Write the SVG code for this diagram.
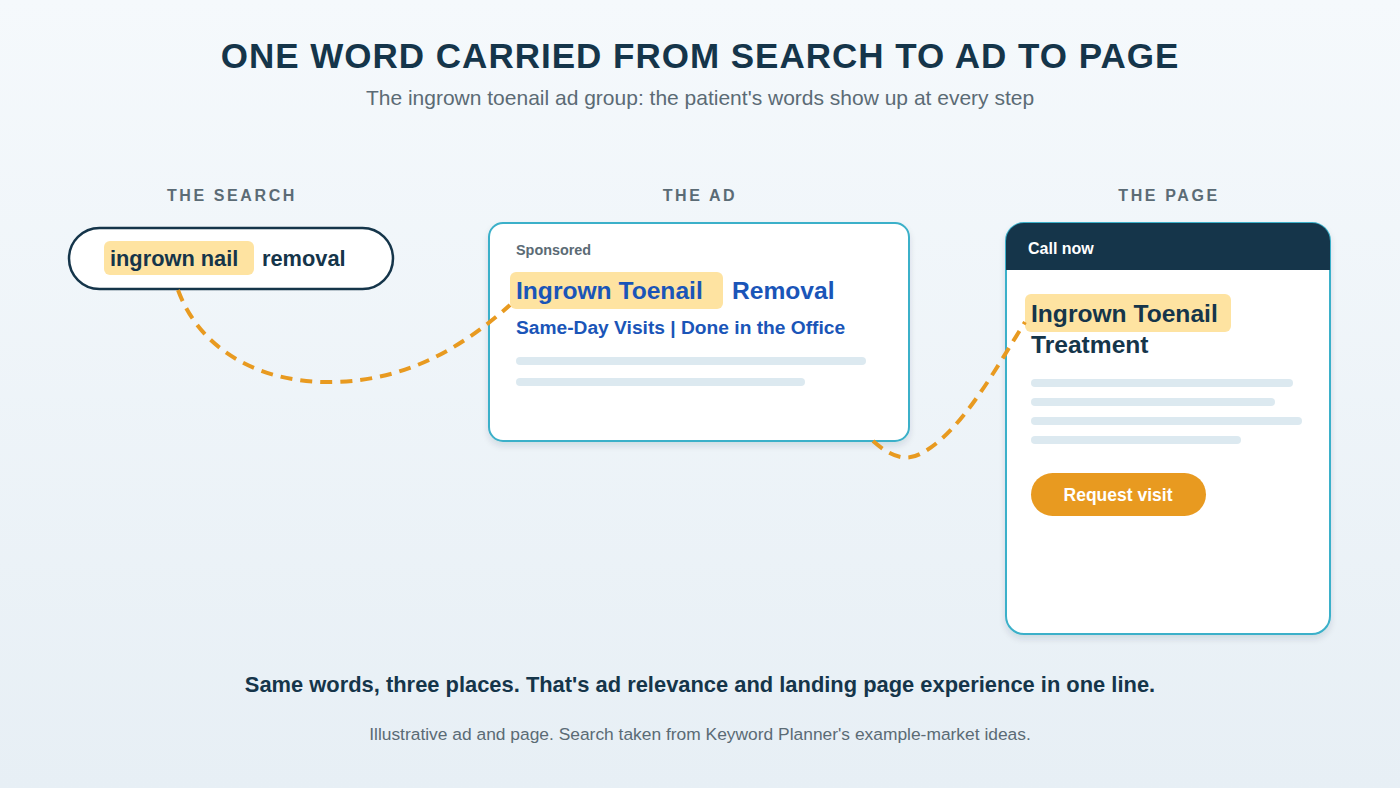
<svg xmlns="http://www.w3.org/2000/svg" width="1400" height="788" viewBox="0 0 1400 788">
<defs>
<linearGradient id="bg" x1="0" y1="0" x2="0" y2="1">
<stop offset="0" stop-color="#f5f9fc"/>
<stop offset="1" stop-color="#e7eff5"/>
</linearGradient>
<filter id="sh" x="-10%" y="-10%" width="120%" height="130%">
<feDropShadow dx="0" dy="4" stdDeviation="3" flood-color="#15354a" flood-opacity="0.12"/>
</filter>
<style>
text{font-family:"Liberation Sans",Arial,Helvetica,sans-serif}
.title{font-size:35px;font-weight:700;fill:#15354a;letter-spacing:1px}
.sub{font-size:21px;fill:#5b6b75}
.sec{font-size:16px;font-weight:700;fill:#5b6b75;letter-spacing:2.6px}
.hl{fill:#fee3a1}
.bar{fill:#dce9f0}
.card{fill:#fff;stroke:#3bb0c9;stroke-width:2}
.conn{fill:none;stroke:#e89a20;stroke-width:4;stroke-dasharray:12 8}
.navy{fill:#15354a}
.blue{fill:#1a55b8}
</style>
</defs>
<rect width="1400" height="788" fill="url(#bg)"/>

<text class="title" x="700" y="68" text-anchor="middle">ONE WORD CARRIED FROM SEARCH TO AD TO PAGE</text>
<text class="sub" x="700" y="105" text-anchor="middle">The ingrown toenail ad group: the patient's words show up at every step</text>

<text class="sec" x="232" y="201" text-anchor="middle">THE SEARCH</text>
<text class="sec" x="700" y="201" text-anchor="middle">THE AD</text>
<text class="sec" x="1169" y="201" text-anchor="middle">THE PAGE</text>

<g id="search">
<rect x="69" y="228" width="324" height="61" rx="30.5" fill="#fff" stroke="#15354a" stroke-width="2.5"/>
<rect class="hl" x="104" y="241" width="150" height="34" rx="6"/>
<text x="110" y="266" font-size="21.8" font-weight="700" class="navy">ingrown nail</text>
<text x="262" y="266" font-size="21.8" font-weight="700" class="navy">removal</text>
</g>

<g id="ad">
<rect class="card" x="489" y="223" width="420" height="218" rx="14" filter="url(#sh)"/>
<text x="516" y="255" font-size="14.4" font-weight="700" fill="#5b6b75">Sponsored</text>
<rect class="hl" x="510" y="272" width="213" height="37" rx="6"/>
<text x="516" y="299" font-size="24.6" font-weight="700" class="blue">Ingrown Toenail</text>
<text x="732" y="299" font-size="24.6" font-weight="700" class="blue">Removal</text>
<text x="516" y="334" font-size="19.2" font-weight="700" class="blue">Same-Day Visits | Done in the Office</text>
<rect class="bar" x="516" y="357" width="350" height="8" rx="4"/>
<rect class="bar" x="516" y="378" width="289" height="8" rx="4"/>
</g>

<g id="page">
<rect class="card" x="1006" y="223" width="324" height="411" rx="18" filter="url(#sh)"/>
<path d="M1006,270 V241 A18,18 0 0 1 1024,223 H1312 A18,18 0 0 1 1330,241 V270 Z" fill="#15354a"/>
<text x="1028" y="254" font-size="16" font-weight="700" fill="#fff">Call now</text>
<rect class="hl" x="1025" y="294" width="206" height="38" rx="6"/>
<text x="1031" y="322" font-size="24.6" font-weight="700" class="navy">Ingrown Toenail</text>
<text x="1031" y="353" font-size="24.6" font-weight="700" class="navy">Treatment</text>
<rect class="bar" x="1031" y="379" width="262" height="8" rx="4"/>
<rect class="bar" x="1031" y="398" width="244" height="8" rx="4"/>
<rect class="bar" x="1031" y="417" width="271" height="8" rx="4"/>
<rect class="bar" x="1031" y="436" width="210" height="8" rx="4"/>
<rect x="1031" y="473" width="175" height="43" rx="21.5" fill="#e89a20"/>
<text x="1118" y="501" font-size="17.5" font-weight="700" fill="#fff" text-anchor="middle">Request visit</text>
</g>

<g id="connectors">
<path class="conn" d="M178,290 C200,350 260,384 335,382 C410,380 465,345 510,305"/>
<path class="conn" d="M873,441 C890,456 905,462 920,454 C960,434 995,370 1025,322"/>
</g>

<text x="700" y="692" font-size="21.9" font-weight="700" class="navy" text-anchor="middle">Same words, three places. That's ad relevance and landing page experience in one line.</text>
<text x="700" y="740" font-size="17.4" fill="#5b6b75" text-anchor="middle">Illustrative ad and page. Search taken from Keyword Planner's example-market ideas.</text>
</svg>
